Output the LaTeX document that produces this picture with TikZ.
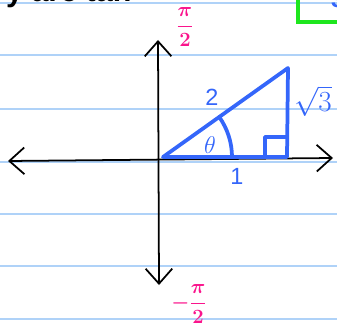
\documentclass[tikz,border=0pt]{standalone}
\usepackage{fontspec}
\setmainfont{Liberation Sans}
\usetikzlibrary{arrows.meta}

\definecolor{penblue}{RGB}{52,102,250}
\definecolor{penpink}{RGB}{250,20,140}
\definecolor{rulecol}{RGB}{175,210,248}
\definecolor{pengreen}{RGB}{30,230,30}

\tikzset{
  ruled/.style={rulecol, line width=0.9pt},
  axis/.style={black, line width=1.5pt, line cap=round,
    {Straight Barb[length=4.5mm,width=8mm,line width=1.5pt]}-{Straight Barb[length=4.5mm,width=8mm,line width=1.5pt]}},
  bluepen/.style={penblue, line width=3.2pt, line cap=round, line join=round},
  bluelabel/.style={penblue, font=\fontsize{20}{20}\selectfont},
  pinklabel/.style={penpink, inner sep=0pt, font=\fontsize{19}{19}\selectfont\boldmath}
}

\begin{document}
\begin{tikzpicture}[x=0.03cm, y=0.03cm]
  \useasboundingbox (0,0) rectangle (337,329);

  % ruled paper
  \foreach \ly in {326,274,220,167,115,63,10} {
    \draw[ruled] (0,\ly) -- (337,\ly);
  }

  % cut-off text and box at the top
  \begin{scope}
    \clip (0,320) rectangle (337,329);
    \node[anchor=base west, font=\fontsize{26}{26}\selectfont\bfseries] (toptext) at (2,327) {y are tan};
    \node[anchor=base west, penblue, font=\fontsize{20}{20}\selectfont\bfseries] (boxthree) at (327,321) {3};
  \end{scope}
  \draw[pengreen, line width=3pt] (298,335) -- (298,307) -- (340,307);

  % axes
  \coordinate (xl) at (8,168);
  \coordinate (xr) at (333,171);
  \coordinate (yt) at (158,289);
  \coordinate (yb) at (159,44);
  \draw[axis] (xl) -- (xr);
  \draw[axis] (yb) -- (yt);

  % axis end labels
  \node[pinklabel] (piup) at (185,302) {$\displaystyle\frac{\pi}{2}$};
  \node[pinklabel] (pidown) at (189,25) {$\displaystyle-\frac{\pi}{2}$};

  % triangle
  \coordinate (O) at (163,172);
  \coordinate (A) at (288,261);
  \coordinate (B) at (287,172);
  \draw[bluepen] (O) -- (A) -- (B) -- cycle;
  \draw[bluepen] (B) ++(-22,0) |- ++(22,20);
  \draw[bluepen] (O) ++(69,0) arc[start angle=0, end angle=35.5, radius=69];

  % labels
  \node[bluelabel] (hyp) at (212,232) {2};
  \node[bluelabel, font=\fontsize{24}{24}\selectfont] (opp) at (313,228) {$\sqrt{3}$};
  \node[bluelabel] (adj) at (237,153) {1};
  \node[bluelabel] (ang) at (210,184) {$\theta$};
\end{tikzpicture}
\end{document}
